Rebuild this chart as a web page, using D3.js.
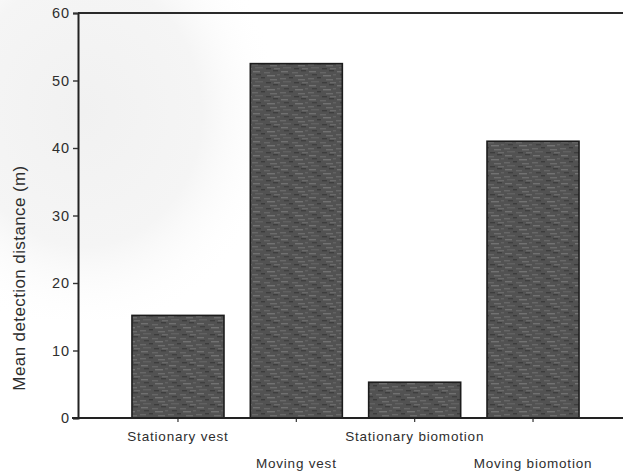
<!DOCTYPE html>
<html>
<head>
<meta charset="utf-8">
<script src="https://cdn.jsdelivr.net/npm/d3@7/dist/d3.min.js"></script>
<style>
  html, body { margin: 0; padding: 0; background: #ffffff; }
  svg { display: block; }
  text { font-family: "Liberation Sans", Arial, Helvetica, sans-serif; fill: #2e2e2e; }
</style>
</head>
<body>
<script>
// Mean detection distance for each clothing / motion condition
const categories = ["Stationary vest", "Moving vest", "Stationary biomotion", "Moving biomotion"];
const values = [15.2, 52.5, 5.3, 41.0];
const yTicks = [0, 10, 20, 30, 40, 50, 60];
const yTitle = "Mean detection distance (m)";

const W = 623, H = 472;
const svg = d3.select("body").append("svg").attr("width", W).attr("height", H);

const defs = svg.append("defs");

// halftone-like fill for the bars: dark grey with short light streaks
const pat = defs.append("pattern")
  .attr("id", "barFill").attr("patternUnits", "userSpaceOnUse")
  .attr("width", 28).attr("height", 14);
pat.append("rect").attr("width", 28).attr("height", 14).attr("fill", "#525252");
const streaks = [
  [1, 1, 7, "#707070"], [12, 2, 6, "#666666"], [21, 0, 5, "#3e3e3e"],
  [4, 4, 5, "#404040"], [15, 5, 8, "#727272"], [25, 4, 3, "#626262"],
  [0, 8, 6, "#686868"], [9, 7, 4, "#3c3c3c"], [18, 9, 7, "#6c6c6c"],
  [3, 11, 8, "#616161"], [14, 12, 5, "#3d3d3d"], [22, 12, 6, "#6a6a6a"]
];
streaks.forEach(([sx, sy, sw, c]) =>
  pat.append("rect").attr("x", sx).attr("y", sy).attr("width", sw).attr("height", 1.4).attr("fill", c));

// faint grey wash on the upper left margin
const wash = defs.append("radialGradient").attr("id", "wash")
  .attr("cx", 0.3).attr("cy", 0.35).attr("r", 0.7);
wash.append("stop").attr("offset", 0).attr("stop-color", "#f1f1f1");
wash.append("stop").attr("offset", 0.6).attr("stop-color", "#f5f5f5");
wash.append("stop").attr("offset", 1).attr("stop-color", "#ffffff").attr("stop-opacity", 0);
svg.append("rect").attr("x", 0).attr("y", 0).attr("width", 280).attr("height", 320)
  .attr("fill", "url(#wash)");

const axisX = 78, plotTop = 13, base = 418;

const y = d3.scaleLinear().domain([0, 60]).range([base, plotTop]);
const x = d3.scaleBand().domain(categories)
  .range([axisX, 633]).paddingInner(0.2225).paddingOuter(0.456);

// bars
svg.append("g").selectAll("rect").data(values).join("rect")
  .attr("x", (d, i) => x(categories[i]))
  .attr("y", d => y(d))
  .attr("width", x.bandwidth())
  .attr("height", d => base - y(d))
  .attr("fill", "url(#barFill)")
  .attr("stroke", "#1c1c1c").attr("stroke-width", 1.6);

// frame line across the top
svg.append("line")
  .attr("x1", axisX).attr("x2", W).attr("y1", plotTop).attr("y2", plotTop)
  .attr("stroke", "#2a2a2a").attr("stroke-width", 1.8);

// y axis
const yAxis = svg.append("g").attr("transform", `translate(${axisX},0)`)
  .call(d3.axisLeft(y).tickValues(yTicks).tickSize(5).tickPadding(3).tickFormat(d3.format("d")));
yAxis.select(".domain").attr("stroke", "#222").attr("stroke-width", 2);
yAxis.selectAll(".tick line").attr("stroke", "#333").attr("stroke-width", 1.4);
yAxis.selectAll(".tick text")
  .attr("font-size", 14.5).attr("letter-spacing", 0.9).attr("fill", "#333")
  .style("font-family", "'Liberation Sans', Arial, sans-serif");

// x axis baseline with small ticks under each bar
const xAxis = svg.append("g").attr("transform", `translate(0,${base})`)
  .call(d3.axisBottom(x).tickSize(4).tickSizeOuter(0).tickFormat(""));
xAxis.select(".domain").remove();
xAxis.selectAll(".tick line").attr("stroke", "#333").attr("stroke-width", 1.2);
svg.append("line")
  .attr("x1", axisX - 6).attr("x2", W).attr("y1", base).attr("y2", base)
  .attr("stroke", "#222").attr("stroke-width", 2);

// category labels on two staggered rows
svg.append("g").selectAll("text").data(categories).join("text")
  .attr("x", d => x(d) + x.bandwidth() / 2)
  .attr("y", (d, i) => i % 2 === 0 ? 441 : 468)
  .attr("text-anchor", "middle")
  .attr("font-size", 13.5).attr("letter-spacing", 0.8)
  .text(d => d);

// y axis title
svg.append("text")
  .attr("transform", "translate(25,278) rotate(-90)")
  .attr("text-anchor", "middle")
  .attr("font-size", 17).attr("letter-spacing", 0.4)
  .text(yTitle);
</script>
</body>
</html>
